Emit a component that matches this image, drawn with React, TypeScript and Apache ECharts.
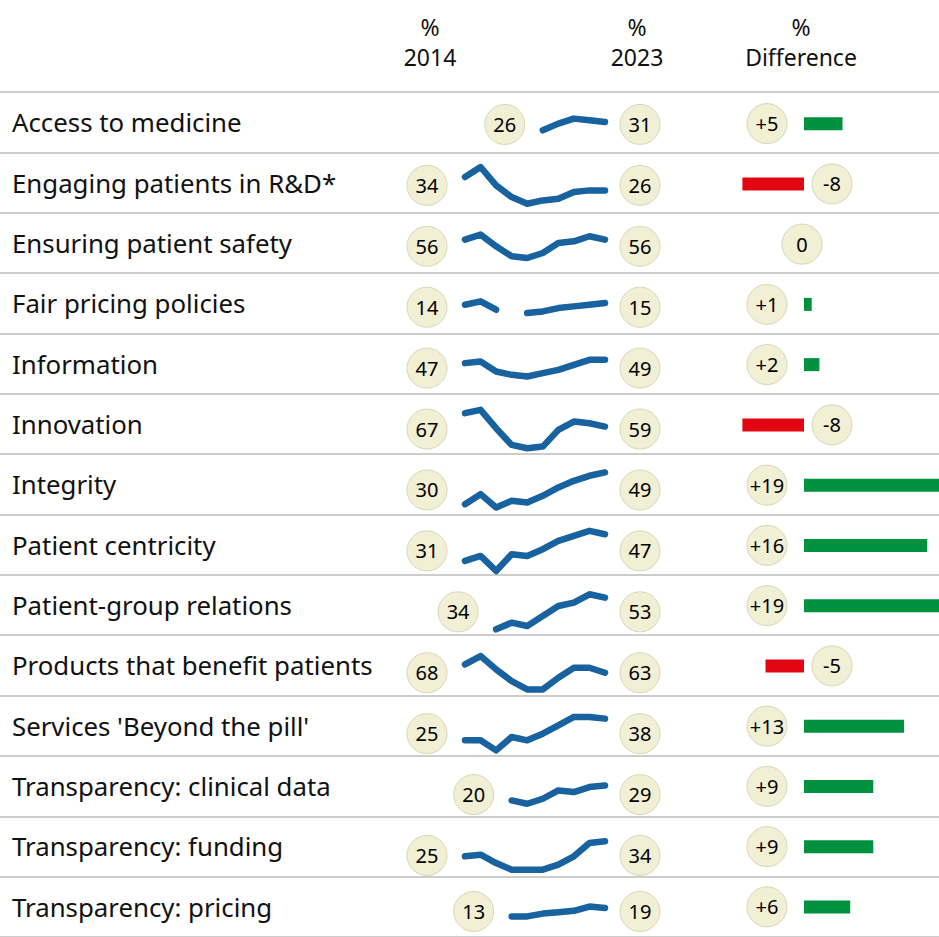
import React, { useEffect, useRef } from "react";
import * as echarts from "echarts";

const years = ["2014", "2015", "2016", "2017", "2018", "2019", "2020", "2021", "2022", "2023"];

const labels = [
  "Access to medicine",
  "Engaging patients in R&D*",
  "Ensuring patient safety",
  "Fair pricing policies",
  "Information",
  "Innovation",
  "Integrity",
  "Patient centricity",
  "Patient-group relations",
  "Products that benefit patients",
  "Services 'Beyond the pill'",
  "Transparency: clinical data",
  "Transparency: funding",
  "Transparency: pricing",
];

const accessToMedicine = [null, null, null, null, null, 26, 30, 33, 32, 31];
const engagingPatients = [34, 40, 29, 22, 18, 20, 21, 25, 26, 26];
const patientSafety = [56, 59, 52, 46, 45, 48, 54, 55, 58, 56];
const fairPricing = [14, 16, 11, null, 9, 10, 12, 13, 14, 15];
const information = [47, 48, 42, 40, 39, 41, 43, 46, 49, 49];
const innovation = [67, 69, 58, 48, 46, 47, 57, 62, 61, 59];
const integrity = [30, 36, 28, 32, 31, 35, 40, 44, 47, 49];
const patientCentricity = [31, 34, 25, 35, 34, 38, 43, 46, 49, 47];
const patientGroup = [null, null, 34, 38, 36, 42, 48, 50, 55, 53];
const products = [68, 73, 65, 58, 53, 53, 60, 66, 66, 63];
const services = [25, 25, 19, 27, 25, 29, 34, 39, 39, 38];
const clinicalData = [null, null, null, 20, 18, 21, 26, 25, 28, 29];
const funding = [25, 26, 21, 17, 17, 17, 20, 25, 33, 34];
const pricing = [null, null, null, 13, 13, 15, 16, 17, 20, 19];

const rows = [
  accessToMedicine, engagingPatients, patientSafety, fairPricing, information, innovation,
  integrity, patientCentricity, patientGroup, products, services, clinicalData, funding, pricing,
];

const difference = [5, -8, 0, 1, 2, -8, 19, 16, 19, -5, 13, 9, 9, 6];

const W = 939;
const H = 937;
const TOP = 92;
const ROW_H = 60.92;
const PX_PER_UNIT = 1.67;
const FONT = "'Noto Sans', 'Open Sans', sans-serif";
const BLUE = "#17629f";
const CREAM = "#f1efd4";
const CREAM_BORDER = "#d9d6b6";

const BAR_ZERO = 804;
const BAR_PX = 7.7;
const BAR_MIN = -12;
const BAR_MAX = (W - BAR_ZERO) / BAR_PX;

function circleLabel(size: number) {
  return {
    show: true,
    position: "inside",
    fontSize: size,
    fontFamily: FONT,
    fontWeight: "normal",
    color: "#000000",
    textBorderWidth: 0,
    formatter: (p: any) => p.data.text,
  };
}

export default function App() {
  const ref = useRef<HTMLDivElement>(null);

  useEffect(() => {
    if (!ref.current) return;
    const chart = echarts.init(ref.current, undefined, { renderer: "svg" });

    const grids: any[] = [];
    const xAxes: any[] = [];
    const yAxes: any[] = [];
    const series: any[] = [];

    // background grid: row labels + separators
    grids.push({ left: 0, width: W, top: TOP, height: ROW_H * rows.length });
    xAxes.push({ gridIndex: 0, type: "value", show: false, min: 0, max: 1 });
    yAxes.push({
      gridIndex: 0,
      type: "category",
      inverse: true,
      data: labels,
      axisLine: { show: false },
      axisTick: { show: false },
      axisLabel: {
        inside: true,
        margin: 12,
        interval: 0,
        align: "left",
        fontSize: 25.8,
        fontFamily: FONT,
        color: "#111",
      },
      splitLine: { show: true, interval: 0, lineStyle: { color: "#bdbdbd", width: 1.6 } },
    });

    // difference grid
    grids.push({
      left: BAR_ZERO + BAR_MIN * BAR_PX,
      width: (BAR_MAX - BAR_MIN) * BAR_PX,
      top: TOP + 1.5,
      height: ROW_H * rows.length,
    });
    xAxes.push({ gridIndex: 1, type: "value", show: false, min: BAR_MIN, max: BAR_MAX });
    yAxes.push({ gridIndex: 1, type: "category", inverse: true, data: labels, show: false });
    series.push({
      type: "bar",
      xAxisIndex: 1,
      yAxisIndex: 1,
      barWidth: 13,
      clip: false,
      data: difference.map((d) => ({
        value: d,
        itemStyle: { color: d < 0 ? "#e20613" : "#00913e" },
      })),
    });
    series.push({
      type: "scatter",
      xAxisIndex: 1,
      yAxisIndex: 1,
      clip: false,
      z: 5,
      symbol: "circle",
      symbolSize: 40,
      itemStyle: { color: CREAM, borderColor: CREAM_BORDER, borderWidth: 1, opacity: 1 },
      label: circleLabel(20),
      data: difference.map((d, i) => ({
        value: [0, i],
        text: d > 0 ? "+" + d : String(d),
        symbolOffset: [d > 0 ? -37 : d < 0 ? 28 : -2, 0],
      })),
    });

    // sparklines
    rows.forEach((vals, i) => {
      const g = i + 2;
      const nums = vals.filter((v) => v !== null) as number[];
      const mn = Math.min(...nums);
      const mx = Math.max(...nums);
      const mid = (mn + mx) / 2;
      const half = ROW_H / 2 / PX_PER_UNIT;
      grids.push({ left: 465, width: 140, top: TOP + i * ROW_H + 2, height: ROW_H });
      xAxes.push({ gridIndex: g, type: "category", data: years, boundaryGap: false, show: false });
      yAxes.push({ gridIndex: g, type: "value", min: mid - half, max: mid + half, show: false });
      series.push({
        type: "line",
        xAxisIndex: g,
        yAxisIndex: g,
        data: vals,
        symbol: "none",
        clip: false,
        connectNulls: false,
        lineStyle: { color: BLUE, width: 6.5, cap: "round", join: "round" },
      });
      const firstIdx = vals.findIndex((v) => v !== null);
      const first = vals[firstIdx] as number;
      const last = vals[vals.length - 1] as number;
      series.push({
        type: "scatter",
        xAxisIndex: g,
        yAxisIndex: g,
        clip: false,
        z: 5,
        symbol: "circle",
        symbolSize: 40,
        itemStyle: { color: CREAM, borderColor: CREAM_BORDER, borderWidth: 1, opacity: 1 },
        label: circleLabel(20),
        data: [
          { value: [firstIdx, mid], text: String(first), symbolOffset: [-38, 0] },
          { value: [vals.length - 1, mid], text: String(last), symbolOffset: [35, 0] },
        ],
      });
    });

    const headerText = (x: number, y: number, t: string) => ({
      type: "text",
      x,
      y,
      style: {
        text: t,
        fontSize: 23,
        fontFamily: FONT,
        fill: "#111",
        align: "center",
        verticalAlign: "middle",
      },
    });

    chart.setOption({
      animation: false,
      backgroundColor: "#ffffff",
      grid: grids,
      xAxis: xAxes,
      yAxis: yAxes,
      series,
      graphic: [
        headerText(430, 27, "%"),
        headerText(430, 57, "2014"),
        headerText(637, 27, "%"),
        headerText(637, 57, "2023"),
        headerText(801, 27, "%"),
        headerText(801, 57, "Difference"),
      ],
    });

    return () => chart.dispose();
  }, []);

  return (
    <div
      ref={ref}
      style={{ position: "absolute", left: 0, top: 0, width: W, height: H, background: "#fff" }}
    />
  );
}
